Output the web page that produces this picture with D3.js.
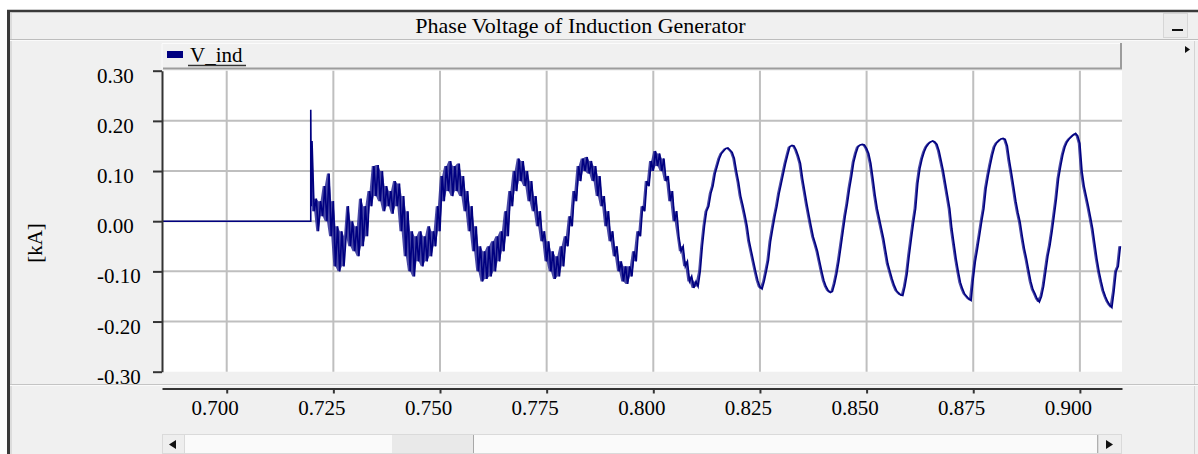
<!DOCTYPE html>
<html><head><meta charset="utf-8">
<script src="https://cdn.jsdelivr.net/npm/d3@7"></script>
<style>
html,body{margin:0;padding:0;background:#fff;}
svg{display:block;}
text{font-family:"Liberation Serif","Times New Roman",serif;fill:#000;}
</style>
</head><body>
<svg id="chart" width="1198" height="454"></svg>
<script>
// ---------- data ----------
const chartTitle = "Phase Voltage of Induction Generator";
const seriesName = "V_ind";
const yUnit = "[kA]";
const xTicks = [0.700, 0.725, 0.750, 0.775, 0.800, 0.825, 0.850, 0.875, 0.900];
const xTickLabels = ["0.700", "0.725", "0.750", "0.775", "0.800", "0.825", "0.850", "0.875", "0.900"];
const yTicks = [0.30, 0.20, 0.10, 0.00, -0.10, -0.20, -0.30];
const yTickLabels = ["0.30", "0.20", "0.10", "0.00", "-0.10", "-0.20", "-0.30"];
const xDomain = [0.68483, 0.90987];
const yDomain = [-0.30, 0.30];

// before the event (time in s, value in kA)
const preTime  = [0.68483, 0.71970, 0.71970, 0.71985];
const preValue = [0, 0, 0.222, 0.030];

// samples after the event, every 0.5 ms starting at 0.7200 s (kA)
const sampleStart = 0.7200;
const sampleStep = 0.0005;
const voltage = [
  0.16, 0.02, 0.045, -0.02, 0.04, 0.01, 0.07, 0.0, 0.095, -0.03,
  0.04, -0.09, -0.01, -0.1, -0.02, -0.09, -0.03, 0.03, -0.05, 0.0,
  -0.06, -0.01, -0.07, 0.045, -0.05, 0.03, -0.03, 0.06, 0.03, 0.11,
  0.05, 0.112, 0.04, 0.1, 0.02, 0.07, 0.03, 0.06, 0.015, 0.08,
  0.03, 0.075, -0.02, 0.05, -0.07, 0.02, -0.1, -0.02, -0.11, -0.03,
  -0.08, -0.02, -0.09, -0.03, -0.08, -0.01, -0.07, -0.02, -0.05, 0.03,
  -0.02, 0.09, 0.04, 0.11, 0.06, 0.12, 0.05, 0.11, 0.06, 0.115,
  0.05, 0.09, 0.02, 0.06, -0.02, 0.03, -0.06, -0.01, -0.1, -0.05,
  -0.12, -0.06, -0.115, -0.05, -0.11, -0.04, -0.1, -0.03, -0.08, -0.02,
  -0.06, 0.02, -0.03, 0.06, 0.03, 0.1, 0.06, 0.125, 0.08, 0.12,
  0.07, 0.1, 0.04, 0.08, 0.02, 0.05, -0.01, 0.02, -0.04, -0.02,
  -0.08, -0.04, -0.1, -0.06, -0.115, -0.07, -0.11, -0.05, -0.09, -0.03,
  -0.05, 0.01, -0.01, 0.06, 0.04, 0.11, 0.08, 0.125, 0.1, 0.128,
  0.095, 0.12, 0.08, 0.11, 0.05, 0.09, 0.03, 0.05, -0.01, 0.02,
  -0.04, -0.02, -0.07, -0.05, -0.1, -0.08, -0.12, -0.09, -0.125, -0.09,
  -0.11, -0.06, -0.08, -0.02, -0.03, 0.03, 0.02, 0.08, 0.07, 0.12,
  0.1, 0.14, 0.11, 0.135, 0.1, 0.125, 0.08, 0.09, 0.04, 0.06,
  0.0, 0.02, -0.03, -0.06, -0.05, -0.09, -0.08, -0.12, -0.11, -0.133,
  -0.12, -0.13, -0.1, -0.05, -0.01, 0.02, 0.03, 0.055, 0.07, 0.095,
  0.11, 0.125, 0.135, 0.14, 0.145, 0.146, 0.142, 0.137, 0.125, 0.1,
  0.078, 0.05, 0.032, 0.012, -0.01, -0.04, -0.06, -0.08, -0.1, -0.118,
  -0.131, -0.135, -0.12, -0.1, -0.078, -0.04, -0.015, 0.009, 0.03, 0.055,
  0.075, 0.095, 0.115, 0.132, 0.148, 0.151, 0.15, 0.142, 0.13, 0.115,
  0.085, 0.06, 0.035, 0.012, -0.01, -0.031, -0.045, -0.06, -0.08, -0.1,
  -0.118, -0.13, -0.138, -0.142, -0.14, -0.125, -0.105, -0.08, -0.05, -0.02,
  0.01, 0.035, 0.065, 0.09, 0.118, 0.135, 0.148, 0.152, 0.153, 0.152,
  0.145, 0.135, 0.115, 0.085, 0.052, 0.025, 0.005, -0.015, -0.035, -0.06,
  -0.085, -0.1, -0.115, -0.128, -0.138, -0.143, -0.147, -0.148, -0.13, -0.105,
  -0.068, -0.035, -0.003, 0.025, 0.075, 0.105, 0.124, 0.138, 0.148, 0.154,
  0.158, 0.16, 0.158, 0.153, 0.14, 0.12, 0.1, 0.075, 0.05, 0.025,
  -0.015, -0.045, -0.075, -0.1, -0.122, -0.135, -0.145, -0.15, -0.155, -0.158,
  -0.115, -0.08, -0.055, -0.028, 0.0, 0.025, 0.065, 0.09, 0.112, 0.132,
  0.148, 0.156, 0.16, 0.164, 0.165, 0.163, 0.15, 0.12, 0.095, 0.068,
  0.04, 0.017, -0.002, -0.03, -0.055, -0.075, -0.098, -0.12, -0.136, -0.145,
  -0.155, -0.161, -0.15, -0.13, -0.1, -0.07, -0.048, -0.02, 0.012, 0.045,
  0.085, 0.11, 0.132, 0.148, 0.158, 0.164, 0.168, 0.172, 0.175, 0.17,
  0.155, 0.1, 0.07, 0.05, 0.03, 0.008, -0.015, -0.045, -0.075, -0.1,
  -0.12, -0.138, -0.15, -0.16, -0.167, -0.172, -0.14, -0.1, -0.09, -0.05
];

// ---------- drawing ----------
const W = 1198, H = 454;
const plot = {left: 162, right: 1122, top: 70.7, bottom: 371.7};
const svg = d3.select("#chart");
const bg = "#f0f0f0";
const navy = "#000080";

svg.append("rect").attr("width", W).attr("height", H).attr("fill", "#fff");
svg.append("rect").attr("x", 8).attr("y", 10).attr("width", W - 8).attr("height", H - 10).attr("fill", bg);

// window frame
svg.append("line").attr("x1", 8.5).attr("x2", 8.5).attr("y1", 10).attr("y2", H).attr("stroke", "#3a3a3a").attr("stroke-width", 3);
svg.append("line").attr("x1", 7).attr("x2", W).attr("y1", 11).attr("y2", 11).attr("stroke", "#3a3a3a").attr("stroke-width", 2.5);
svg.append("line").attr("x1", 11).attr("x2", 11).attr("y1", 12).attr("y2", H).attr("stroke", "#c8c8c8").attr("stroke-width", 1);
svg.append("line").attr("x1", 1194.5).attr("x2", 1194.5).attr("y1", 40).attr("y2", H).attr("stroke", "#d4d4d4").attr("stroke-width", 1);

// title bar
svg.append("line").attr("x1", 10).attr("x2", W).attr("y1", 39.5).attr("y2", 39.5).attr("stroke", "#bdbdbd").attr("stroke-width", 1);
svg.append("line").attr("x1", 10).attr("x2", W).attr("y1", 40.5).attr("y2", 40.5).attr("stroke", "#fafafa").attr("stroke-width", 1);
svg.append("text").attr("x", 580.5).attr("y", 33).attr("text-anchor", "middle")
  .style("font-size", "22px").text(chartTitle);

// minimise button + arrow
svg.append("rect").attr("x", 1163.5).attr("y", 13.5).attr("width", 24).attr("height", 24)
  .attr("fill", "#ececec").attr("stroke", "#d6d6d6");
svg.append("line").attr("x1", 1172).attr("x2", 1183).attr("y1", 30).attr("y2", 30).attr("stroke", "#111").attr("stroke-width", 2);
svg.append("path").attr("d", "M1185,46 L1190,49.5 L1185,53 Z").attr("fill", "#111");

// legend bar
svg.append("rect").attr("x", 162).attr("y", 43).attr("width", 960).attr("height", 26).attr("fill", bg);
svg.append("path").attr("d", "M162,69 L162,43.5 L1121,43.5").attr("fill", "none").attr("stroke", "#fbfbfb").attr("stroke-width", 1);
svg.append("path").attr("d", "M163,68.5 L1121,68.5 L1121,43").attr("fill", "none").attr("stroke", "#9c9c9c").attr("stroke-width", 2);
svg.append("rect").attr("x", 167).attr("y", 51).attr("width", 16).attr("height", 7).attr("fill", navy);
svg.append("text").attr("x", 190).attr("y", 62).style("font-size", "21px").text(seriesName);
svg.append("line").attr("x1", 188).attr("x2", 246).attr("y1", 65.5).attr("y2", 65.5).attr("stroke", "#333").attr("stroke-width", 1.5);

// scales
const x = d3.scaleLinear().domain(xDomain).range([plot.left, plot.right]);
const y = d3.scaleLinear().domain(yDomain).range([plot.bottom, plot.top]);

// plot area
svg.append("rect").attr("x", plot.left).attr("y", plot.top).attr("width", plot.right - plot.left)
  .attr("height", plot.bottom - plot.top).attr("fill", "#fff");

// grid
const grid = svg.append("g").attr("stroke", "#bfbfbf").attr("stroke-width", 2);
grid.selectAll("line.v").data(xTicks).join("line").attr("class", "v")
  .attr("x1", d => x(d)).attr("x2", d => x(d)).attr("y1", plot.top).attr("y2", plot.bottom);
grid.selectAll("line.h").data(yTicks.filter(d => Math.abs(d) < 0.29)).join("line").attr("class", "h")
  .attr("x1", plot.left).attr("x2", plot.right).attr("y1", d => y(d)).attr("y2", d => y(d));

// data
svg.append("clipPath").attr("id", "clip").append("rect")
  .attr("x", plot.left).attr("y", plot.top).attr("width", plot.right - plot.left).attr("height", plot.bottom - plot.top);
const samples = voltage.map((v, i) => [sampleStart + i * sampleStep, v]);
const pts = preTime.map((t, i) => [t, preValue[i]]).concat(samples);
// band swept by the trace between neighbouring samples
const band = samples.map((d, i) => {
  const n = samples[Math.min(i + 1, samples.length - 1)];
  return [d[0], Math.min(d[1], n[1]), Math.max(d[1], n[1])];
});
const g = svg.append("g").attr("clip-path", "url(#clip)");
g.append("path").datum(band)
  .attr("d", d3.area().x(d => x(d[0])).y0(d => y(d[1])).y1(d => y(d[2])))
  .attr("fill", "#1c1c8e").attr("fill-opacity", 0.8);
g.append("path").datum(pts)
  .attr("d", d3.line().x(d => x(d[0])).y(d => y(d[1])))
  .attr("fill", "none").attr("stroke", navy).attr("stroke-width", 1.6);

// y axis
const yAxis = svg.append("g").attr("transform", `translate(${plot.left},0)`)
  .call(d3.axisLeft(y).tickValues(yTicks).tickFormat((d, i) => yTickLabels[i]).tickSize(9).tickSizeOuter(0));
yAxis.select(".domain").attr("stroke", "#333").attr("stroke-width", 2);
yAxis.selectAll(".tick line").attr("stroke", "#333").attr("stroke-width", 2);
yAxis.selectAll(".tick text").attr("x", 97 - plot.left).attr("dy", "0.55em").attr("text-anchor", "start")
  .style("font-size", "21px").style("font-family", '"Liberation Serif", serif').attr("fill", "#000");

svg.append("text").attr("transform", "translate(42,243) rotate(-90)").attr("text-anchor", "middle")
  .style("font-size", "21px").text(yUnit);

// bottom separator + x axis
svg.append("line").attr("x1", 10).attr("x2", W).attr("y1", 384.5).attr("y2", 384.5).attr("stroke", "#c4c4c4");
svg.append("line").attr("x1", 10).attr("x2", W).attr("y1", 385.5).attr("y2", 385.5).attr("stroke", "#fafafa");
const xAxis = svg.append("g").attr("transform", "translate(0,388.5)")
  .call(d3.axisBottom(x).tickValues(xTicks).tickFormat((d, i) => xTickLabels[i]).tickSize(5).tickSizeOuter(0));
xAxis.select(".domain").attr("stroke", "#333").attr("stroke-width", 2);
xAxis.selectAll(".tick line").attr("stroke", "#333").attr("stroke-width", 2);
xAxis.selectAll(".tick text").attr("x", -12).attr("y", 26).attr("dy", 0)
  .style("font-size", "21px").style("font-family", '"Liberation Serif", serif').attr("fill", "#000");

// scrollbar
const sb = svg.append("g");
sb.append("rect").attr("x", 162.5).attr("y", 434.5).attr("width", 959).attr("height", 19).attr("fill", "#fafafa").attr("stroke", "#dadada");
sb.append("rect").attr("x", 392).attr("y", 435).attr("width", 81).attr("height", 18).attr("fill", "#e9e9e9");
sb.append("line").attr("x1", 473.5).attr("x2", 473.5).attr("y1", 435).attr("y2", 453).attr("stroke", "#a8a8a8");
sb.append("rect").attr("x", 162.5).attr("y", 434.5).attr("width", 22).attr("height", 19).attr("fill", "#eeeeee").attr("stroke", "#dadada");
sb.append("rect").attr("x", 1098.5).attr("y", 434.5).attr("width", 23).attr("height", 19).attr("fill", "#eeeeee").attr("stroke", "#dadada");
sb.append("line").attr("x1", 1097.5).attr("x2", 1097.5).attr("y1", 435).attr("y2", 453).attr("stroke", "#b0b0b0");
sb.append("path").attr("d", "M176,440 L169,444.5 L176,449 Z").attr("fill", "#111");
sb.append("path").attr("d", "M1106,440 L1113,444.5 L1106,449 Z").attr("fill", "#111");
</script>
</body></html>
